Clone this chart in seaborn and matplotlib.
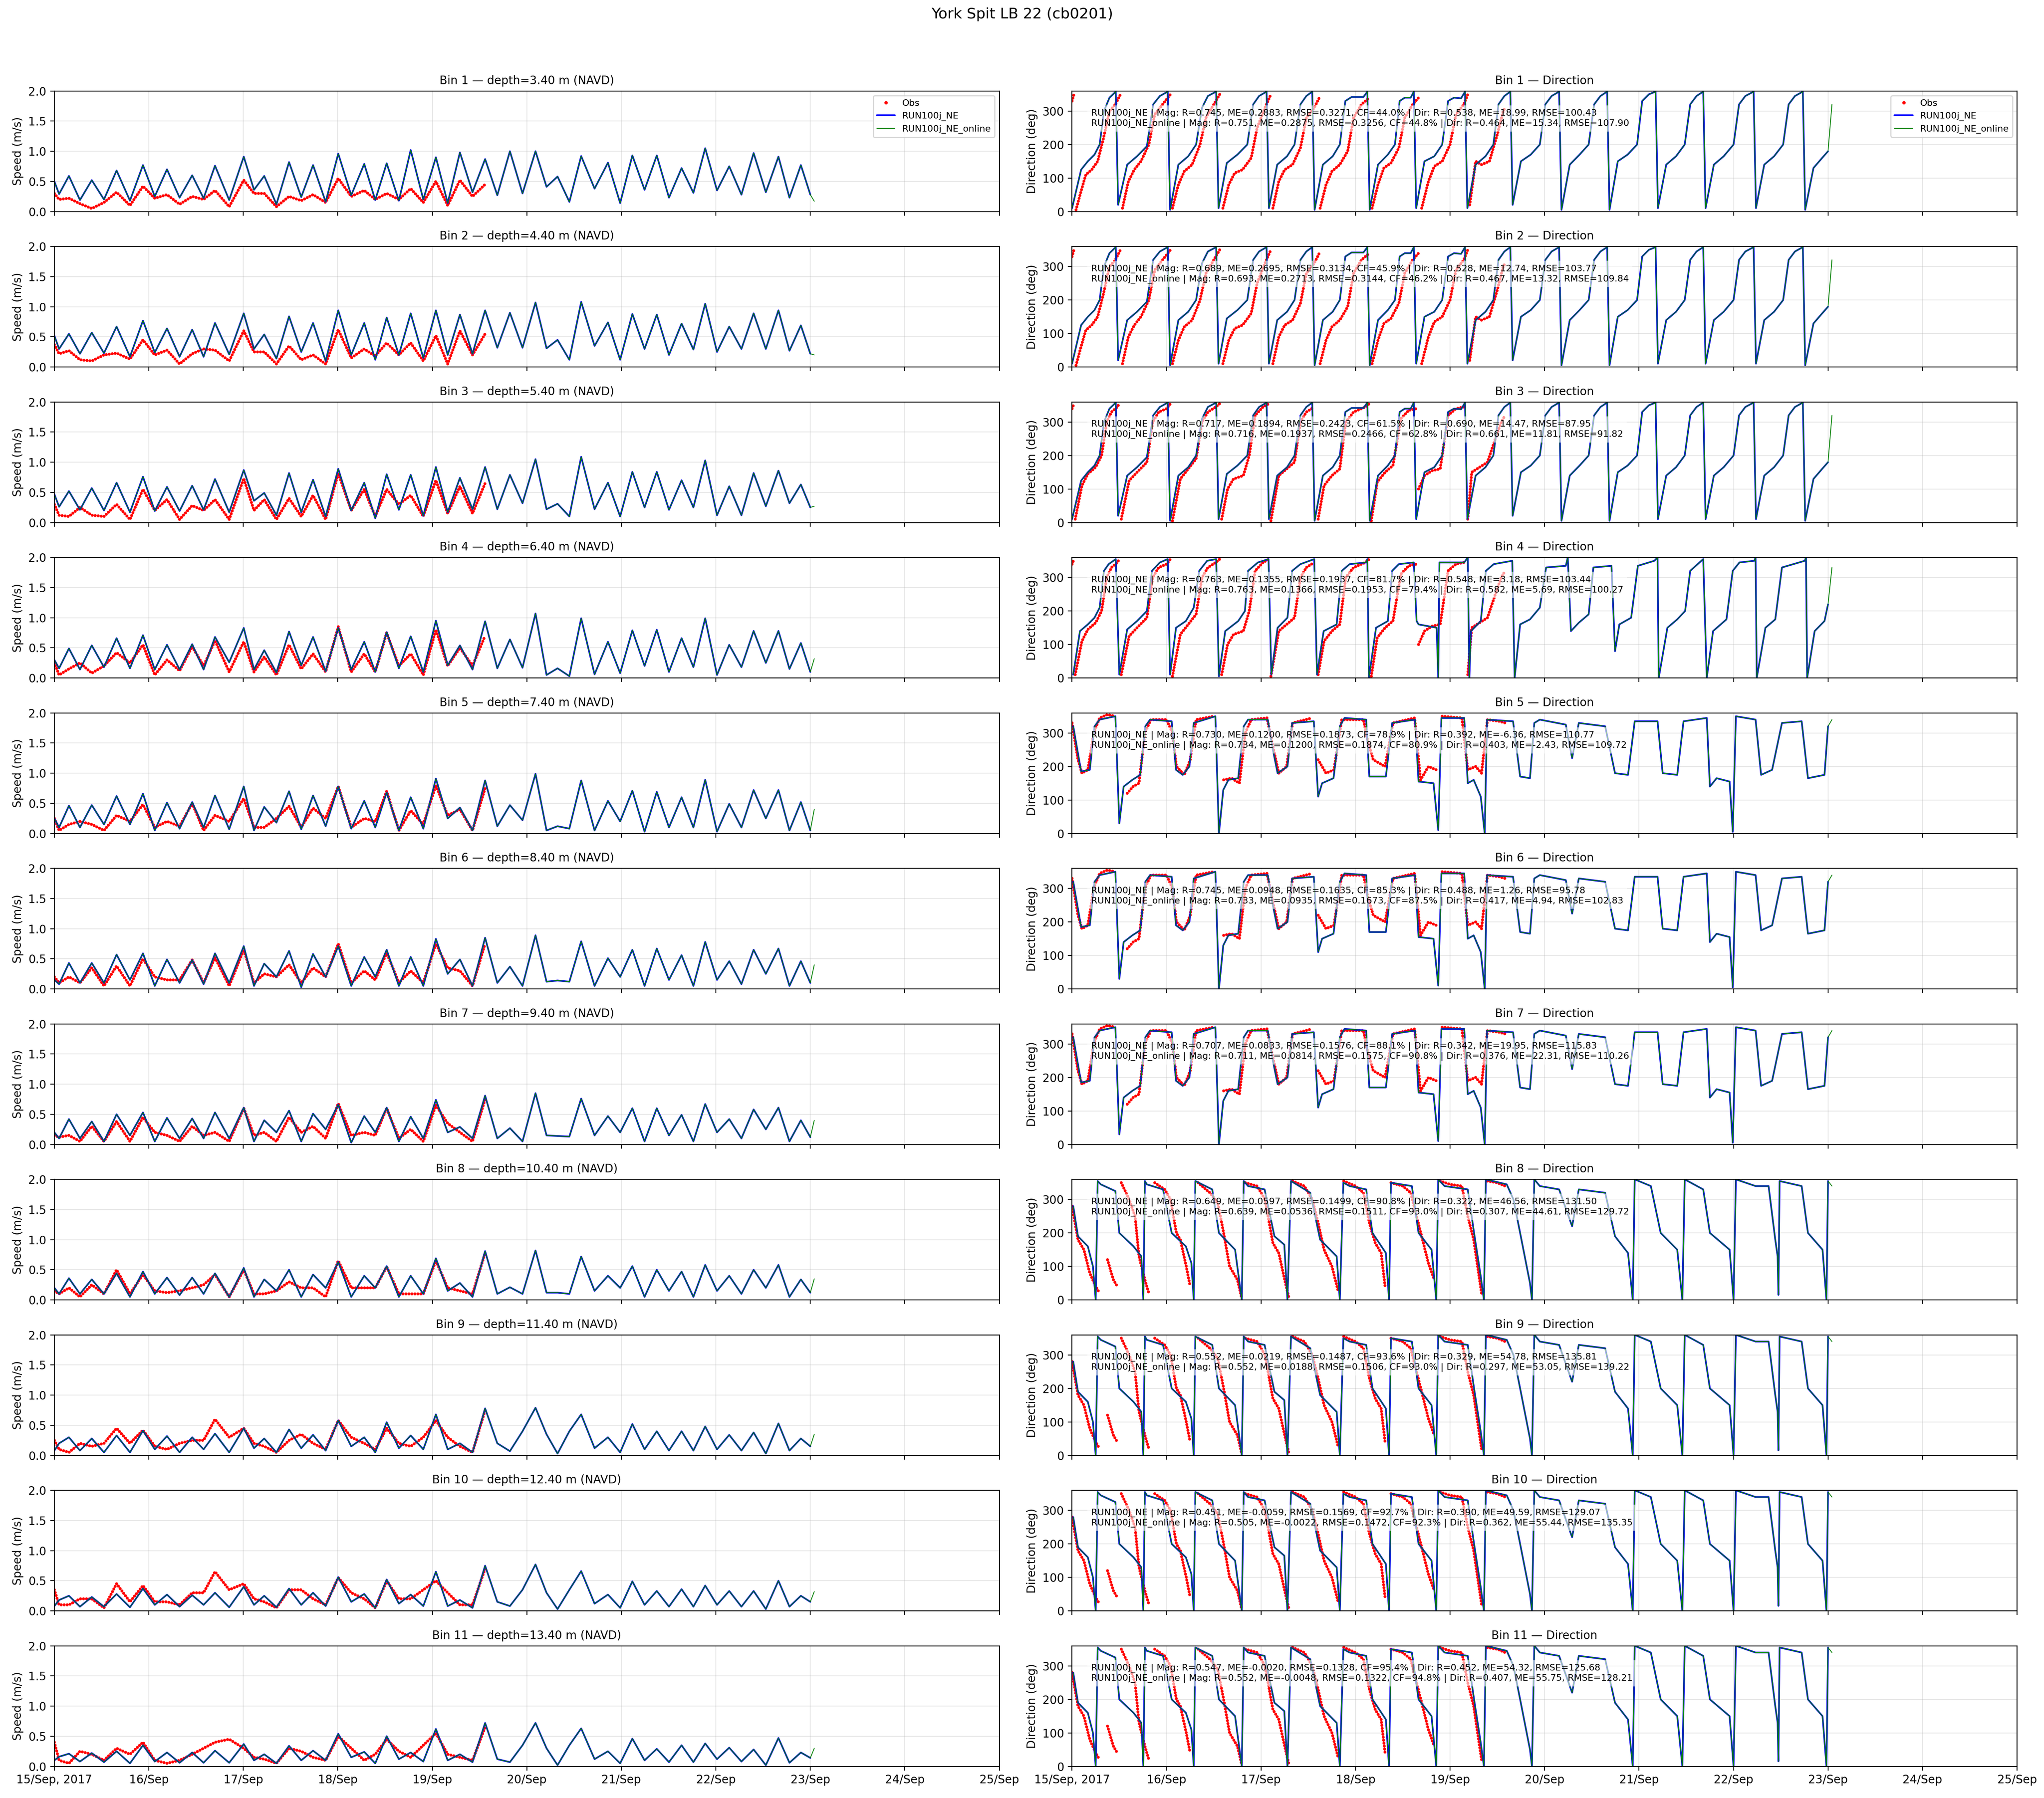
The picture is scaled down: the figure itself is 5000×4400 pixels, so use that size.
#!/usr/bin/env python3
"""Current speed / direction comparison at York Spit LB 22 (cb0201): obs vs RUN100j_NE."""

import numpy as np
import pandas as pd
import matplotlib
matplotlib.use("Agg")
import matplotlib.pyplot as plt
import matplotlib.dates as mdates
from matplotlib.lines import Line2D
from matplotlib.ticker import FuncFormatter
import seaborn as sns

NAN = np.nan

# ---------------------------------------------------------------- data
START = pd.Timestamp("2017-09-15")
END = pd.Timestamp("2017-09-25")

DEPTHS = [3.40, 4.40, 5.40, 6.40, 7.40, 8.40, 9.40, 10.40, 11.40, 12.40, 13.40]

# hours since 15 Sep 00:00 of speed maxima / minima of the model curves
PEAK_T = [3.7, 9.5, 15.8, 22.5, 28.6, 35.0, 40.8, 48.1, 53.3, 59.6, 65.7, 72.1, 78.7, 84.4,
          90.5, 96.9, 103.0, 109.4, 115.7, 122.2, 127.8, 133.8, 140.6, 146.8, 153.0, 159.3,
          165.3, 171.4, 177.6, 183.9, 189.6]
TROUGH_T = [1.2, 6.5, 12.6, 19.2, 25.5, 31.8, 37.9, 44.4, 50.7, 56.4, 62.7, 68.9, 75.4, 81.5,
            87.5, 93.7, 99.9, 106.2, 112.5, 118.9, 125.0, 130.8, 137.2, 143.7, 149.9, 156.1,
            162.3, 168.3, 174.5, 180.7, 186.7]
SPD_START = [0.50, 0.52, 0.47, 0.30, 0.25, 0.15, 0.20, 0.20, 0.08, 0.08, 0.10]
SPD_END = [0.28, 0.22, 0.25, 0.10, 0.05, 0.10, 0.12, 0.12, 0.15, 0.15, 0.14]
ONLINE_SPD_TAIL = [0.17, 0.20, 0.27, 0.32, 0.40, 0.40, 0.40, 0.35, 0.35, 0.32, 0.30]

PEAKS_1 = [0.59, 0.52, 0.68, 0.77, 0.70, 0.60, 0.76, 0.91, 0.59, 0.82, 0.77, 0.96, 0.79, 0.80, 1.02, 0.90,
           0.98, 0.87, 1.00, 1.00, 0.58, 0.92, 0.81, 0.93, 0.93, 0.72, 1.05, 0.75, 0.97, 0.91, 0.77]
TROUGHS_1 = [0.29, 0.19, 0.20, 0.18, 0.25, 0.23, 0.22, 0.19, 0.36, 0.12, 0.24, 0.16, 0.27, 0.19, 0.18, 0.20,
             0.14, 0.32, 0.27, 0.30, 0.41, 0.16, 0.38, 0.14, 0.36, 0.23, 0.31, 0.35, 0.28, 0.32, 0.23]
PEAKS_2 = [0.55, 0.57, 0.67, 0.77, 0.64, 0.62, 0.73, 0.89, 0.54, 0.84, 0.73, 0.94, 0.73, 0.82, 0.89, 0.94,
           0.87, 0.94, 0.90, 1.07, 0.45, 1.08, 0.74, 0.88, 0.87, 0.72, 1.05, 0.67, 0.89, 0.94, 0.69]
TROUGHS_2 = [0.30, 0.22, 0.23, 0.17, 0.24, 0.17, 0.17, 0.21, 0.30, 0.14, 0.25, 0.10, 0.20, 0.12, 0.20, 0.15,
             0.20, 0.22, 0.32, 0.32, 0.31, 0.12, 0.35, 0.12, 0.30, 0.20, 0.29, 0.25, 0.30, 0.30, 0.27]
PEAKS_3 = [0.52, 0.57, 0.66, 0.76, 0.59, 0.61, 0.72, 0.87, 0.49, 0.82, 0.71, 0.89, 0.66, 0.80, 0.79, 0.92,
           0.74, 0.92, 0.79, 1.05, 0.31, 1.09, 0.66, 0.84, 0.84, 0.70, 1.03, 0.60, 0.82, 0.86, 0.63]
TROUGHS_3 = [0.26, 0.21, 0.20, 0.17, 0.19, 0.19, 0.21, 0.17, 0.36, 0.12, 0.17, 0.10, 0.20, 0.07, 0.21, 0.11,
             0.17, 0.22, 0.22, 0.32, 0.22, 0.10, 0.22, 0.10, 0.25, 0.21, 0.25, 0.12, 0.12, 0.27, 0.32]
PEAKS_4 = [0.49, 0.54, 0.66, 0.71, 0.55, 0.56, 0.68, 0.83, 0.46, 0.77, 0.68, 0.83, 0.60, 0.76, 0.69, 0.95,
           0.54, 0.94, 0.64, 1.07, 0.16, 0.99, 0.60, 0.79, 0.80, 0.66, 0.99, 0.55, 0.78, 0.78, 0.58]
TROUGHS_4 = [0.16, 0.14, 0.18, 0.16, 0.14, 0.14, 0.14, 0.26, 0.14, 0.09, 0.21, 0.11, 0.14, 0.10, 0.16, 0.10,
             0.21, 0.14, 0.16, 0.17, 0.05, 0.03, 0.06, 0.08, 0.20, 0.10, 0.18, 0.05, 0.18, 0.25, 0.15]
PEAKS_5 = [0.46, 0.47, 0.62, 0.66, 0.51, 0.52, 0.63, 0.78, 0.44, 0.70, 0.63, 0.78, 0.54, 0.68, 0.60, 0.91,
           0.43, 0.88, 0.47, 0.99, 0.12, 0.88, 0.54, 0.71, 0.69, 0.60, 0.89, 0.49, 0.72, 0.72, 0.52]
TROUGHS_5 = [0.10, 0.10, 0.15, 0.15, 0.05, 0.08, 0.10, 0.07, 0.05, 0.18, 0.07, 0.12, 0.08, 0.10, 0.05, 0.08,
             0.25, 0.05, 0.12, 0.22, 0.05, 0.08, 0.05, 0.20, 0.03, 0.10, 0.10, 0.03, 0.10, 0.25, 0.05]
PEAKS_6 = [0.43, 0.43, 0.57, 0.59, 0.49, 0.48, 0.59, 0.71, 0.42, 0.63, 0.58, 0.71, 0.53, 0.65, 0.53, 0.83,
           0.49, 0.85, 0.37, 0.89, 0.14, 0.79, 0.51, 0.65, 0.67, 0.56, 0.78, 0.46, 0.65, 0.67, 0.46]
TROUGHS_6 = [0.08, 0.10, 0.10, 0.15, 0.05, 0.10, 0.08, 0.10, 0.05, 0.20, 0.03, 0.20, 0.05, 0.20, 0.05, 0.05,
             0.25, 0.05, 0.10, 0.05, 0.12, 0.12, 0.05, 0.20, 0.05, 0.15, 0.05, 0.15, 0.08, 0.25, 0.05]
PEAKS_7 = [0.42, 0.38, 0.50, 0.53, 0.44, 0.43, 0.53, 0.61, 0.40, 0.56, 0.51, 0.66, 0.47, 0.61, 0.46, 0.74,
           0.29, 0.81, 0.27, 0.85, 0.14, 0.76, 0.47, 0.60, 0.60, 0.49, 0.67, 0.42, 0.58, 0.61, 0.40]
TROUGHS_7 = [0.10, 0.10, 0.05, 0.15, 0.05, 0.10, 0.10, 0.10, 0.05, 0.20, 0.05, 0.25, 0.03, 0.20, 0.05, 0.10,
             0.20, 0.10, 0.10, 0.05, 0.15, 0.13, 0.15, 0.20, 0.05, 0.15, 0.05, 0.20, 0.10, 0.25, 0.05]
PEAKS_8 = [0.36, 0.34, 0.44, 0.47, 0.37, 0.37, 0.44, 0.53, 0.34, 0.50, 0.42, 0.63, 0.40, 0.56, 0.40, 0.69,
           0.28, 0.81, 0.21, 0.82, 0.12, 0.72, 0.40, 0.56, 0.50, 0.47, 0.58, 0.40, 0.50, 0.58, 0.34]
TROUGHS_8 = [0.10, 0.10, 0.10, 0.05, 0.10, 0.08, 0.10, 0.05, 0.05, 0.15, 0.05, 0.20, 0.05, 0.20, 0.05, 0.10,
             0.15, 0.05, 0.10, 0.10, 0.12, 0.10, 0.15, 0.20, 0.05, 0.15, 0.05, 0.15, 0.10, 0.20, 0.05]
PEAKS_9 = [0.30, 0.28, 0.33, 0.41, 0.32, 0.30, 0.36, 0.45, 0.28, 0.43, 0.34, 0.58, 0.30, 0.55, 0.33, 0.68,
           0.20, 0.78, 0.07, 0.79, 0.03, 0.68, 0.30, 0.52, 0.40, 0.40, 0.48, 0.34, 0.38, 0.53, 0.28]
TROUGHS_9 = [0.20, 0.08, 0.05, 0.05, 0.10, 0.05, 0.10, 0.05, 0.12, 0.05, 0.12, 0.08, 0.15, 0.05, 0.12, 0.10,
             0.10, 0.05, 0.20, 0.40, 0.35, 0.40, 0.12, 0.05, 0.10, 0.08, 0.08, 0.10, 0.08, 0.03, 0.08]
PEAKS_10 = [0.25, 0.23, 0.28, 0.37, 0.27, 0.26, 0.30, 0.40, 0.25, 0.37, 0.30, 0.56, 0.28, 0.52, 0.27, 0.65,
            0.18, 0.75, 0.08, 0.77, 0.03, 0.66, 0.27, 0.49, 0.33, 0.36, 0.42, 0.33, 0.33, 0.50, 0.25]
TROUGHS_10 = [0.18, 0.07, 0.07, 0.06, 0.10, 0.07, 0.10, 0.06, 0.10, 0.06, 0.10, 0.08, 0.15, 0.05, 0.12, 0.08,
              0.08, 0.05, 0.15, 0.35, 0.30, 0.35, 0.12, 0.05, 0.10, 0.07, 0.07, 0.10, 0.07, 0.03, 0.07]
PEAKS_11 = [0.21, 0.22, 0.25, 0.35, 0.23, 0.23, 0.26, 0.37, 0.20, 0.34, 0.26, 0.54, 0.24, 0.50, 0.23, 0.62,
            0.20, 0.72, 0.07, 0.72, 0.02, 0.63, 0.25, 0.46, 0.29, 0.35, 0.38, 0.31, 0.28, 0.47, 0.23]
TROUGHS_11 = [0.16, 0.08, 0.07, 0.05, 0.08, 0.06, 0.06, 0.06, 0.10, 0.05, 0.10, 0.10, 0.15, 0.05, 0.12, 0.08,
              0.10, 0.07, 0.12, 0.35, 0.30, 0.35, 0.12, 0.05, 0.10, 0.07, 0.07, 0.12, 0.08, 0.02, 0.06]

# observed speed, sampled at the first model extrema (until the record ends ~110 h)
OBS_SPD_1 = [0.30, 0.20, 0.22, 0.13, 0.05, 0.15, 0.32, 0.10, 0.42, 0.22, 0.28, 0.12, 0.25, 0.20, 0.35, 0.08, 0.52,
             0.30, 0.30, 0.08, 0.25, 0.18, 0.28, 0.15, 0.55, 0.25, 0.35, 0.20, 0.30, 0.20, 0.38, 0.15, 0.50, 0.10,
             0.52, 0.25, 0.45]
OBS_SPD_2 = [0.37, 0.22, 0.27, 0.12, 0.10, 0.20, 0.23, 0.13, 0.45, 0.20, 0.28, 0.05, 0.22, 0.30, 0.28, 0.10, 0.60,
             0.25, 0.25, 0.05, 0.35, 0.12, 0.20, 0.05, 0.62, 0.15, 0.30, 0.18, 0.40, 0.20, 0.40, 0.10, 0.52, 0.05,
             0.60, 0.20, 0.55]
OBS_SPD_3 = [0.30, 0.12, 0.10, 0.25, 0.12, 0.10, 0.30, 0.05, 0.55, 0.20, 0.38, 0.05, 0.28, 0.20, 0.38, 0.05, 0.73,
             0.20, 0.38, 0.05, 0.40, 0.10, 0.45, 0.05, 0.82, 0.20, 0.55, 0.10, 0.55, 0.30, 0.45, 0.10, 0.70, 0.15,
             0.60, 0.15, 0.65]
OBS_SPD_4 = [0.25, 0.05, 0.15, 0.25, 0.08, 0.20, 0.42, 0.25, 0.55, 0.05, 0.30, 0.12, 0.52, 0.20, 0.62, 0.10, 0.60,
             0.10, 0.35, 0.05, 0.55, 0.15, 0.40, 0.10, 0.85, 0.10, 0.40, 0.10, 0.75, 0.20, 0.40, 0.05, 0.80, 0.20,
             0.50, 0.20, 0.70]
OBS_SPD_5 = [0.25, 0.05, 0.15, 0.20, 0.15, 0.05, 0.30, 0.20, 0.48, 0.10, 0.20, 0.12, 0.50, 0.05, 0.30, 0.20, 0.58,
             0.10, 0.10, 0.25, 0.45, 0.10, 0.42, 0.25, 0.78, 0.10, 0.25, 0.20, 0.70, 0.05, 0.38, 0.15, 0.80, 0.30,
             0.40, 0.05, 0.75]
OBS_SPD_6 = [0.20, 0.10, 0.20, 0.10, 0.35, 0.05, 0.38, 0.05, 0.50, 0.20, 0.15, 0.15, 0.48, 0.10, 0.52, 0.05, 0.65,
             0.10, 0.25, 0.20, 0.40, 0.10, 0.35, 0.20, 0.75, 0.10, 0.30, 0.15, 0.60, 0.10, 0.30, 0.10, 0.75, 0.35,
             0.30, 0.05, 0.75]
OBS_SPD_7 = [0.15, 0.12, 0.15, 0.05, 0.30, 0.05, 0.38, 0.05, 0.45, 0.20, 0.15, 0.05, 0.30, 0.15, 0.20, 0.05, 0.60,
             0.15, 0.20, 0.05, 0.45, 0.20, 0.30, 0.10, 0.68, 0.15, 0.20, 0.15, 0.60, 0.10, 0.25, 0.05, 0.65, 0.35,
             0.20, 0.05, 0.75]
OBS_SPD_8 = [0.15, 0.10, 0.20, 0.05, 0.25, 0.10, 0.50, 0.10, 0.42, 0.15, 0.12, 0.15, 0.20, 0.25, 0.42, 0.05, 0.50,
             0.10, 0.10, 0.15, 0.30, 0.20, 0.20, 0.05, 0.65, 0.20, 0.20, 0.20, 0.55, 0.10, 0.10, 0.10, 0.65, 0.20,
             0.15, 0.10, 0.78]
OBS_SPD_9 = [0.25, 0.10, 0.05, 0.20, 0.15, 0.20, 0.45, 0.20, 0.42, 0.15, 0.10, 0.20, 0.25, 0.25, 0.60, 0.30, 0.45,
             0.20, 0.15, 0.05, 0.25, 0.35, 0.20, 0.10, 0.58, 0.30, 0.20, 0.10, 0.45, 0.20, 0.15, 0.30, 0.58, 0.30,
             0.15, 0.05, 0.75]
OBS_SPD_10 = [0.35, 0.10, 0.10, 0.20, 0.20, 0.05, 0.45, 0.15, 0.42, 0.15, 0.15, 0.10, 0.30, 0.30, 0.65, 0.35, 0.45,
              0.20, 0.15, 0.05, 0.35, 0.35, 0.20, 0.10, 0.55, 0.30, 0.20, 0.05, 0.50, 0.20, 0.20, 0.35, 0.50, 0.30,
              0.10, 0.10, 0.70]
OBS_SPD_11 = [0.40, 0.10, 0.05, 0.25, 0.20, 0.10, 0.30, 0.20, 0.40, 0.10, 0.05, 0.10, 0.20, 0.30, 0.40, 0.45, 0.30,
              0.15, 0.12, 0.05, 0.30, 0.25, 0.15, 0.10, 0.50, 0.30, 0.10, 0.20, 0.45, 0.25, 0.15, 0.35, 0.55, 0.20,
              0.15, 0.10, 0.65]

# model direction (hour, deg); A: bins 1-3, B: bin 4, C: bins 5-7, D: bins 8-11
DIR_A = [(0.0, 10), (2.3, 125), (4.0, 150), (5.7, 170), (7.0, 200), (8.1, 300), (9.5, 340), (11.1, 358),
         (11.7, 20), (14.0, 140), (16.5, 165), (19.0, 195), (20.6, 320), (22.3, 345), (24.3, 358),
         (24.9, 5), (27.0, 140), (29.5, 165), (31.5, 200), (33.0, 310), (34.5, 345), (36.6, 358),
         (37.2, 10), (39.3, 145), (42.0, 170), (44.5, 200), (46.0, 320), (47.5, 345), (49.4, 358),
         (50.0, 10), (52.1, 140), (54.6, 165), (56.5, 200), (58.0, 320), (59.5, 345), (61.0, 358),
         (61.6, 5), (63.7, 140), (66.2, 165), (68.0, 200), (69.4, 330), (71.0, 342), (74.0, 342), (75.0, 358),
         (75.6, 5), (77.7, 140), (80.2, 170), (82.0, 200), (83.2, 330), (84.5, 340), (86.0, 340), (86.8, 358),
         (87.4, 10), (89.5, 150), (92.0, 165), (94.0, 200), (95.5, 330), (97.0, 340), (98.8, 338), (99.8, 358),
         (100.4, 10), (102.5, 140), (105.0, 165), (107.0, 200), (108.3, 320), (109.8, 345), (111.3, 358),
         (111.9, 20), (114.0, 150), (116.5, 170), (118.8, 200), (120.2, 320), (121.8, 345), (123.7, 358),
         (124.3, 5), (126.4, 140), (128.9, 170), (131.2, 200), (132.6, 320), (134.2, 345), (135.9, 358),
         (136.5, 5), (138.6, 150), (141.1, 170), (143.5, 200), (144.8, 330), (146.5, 350), (148.2, 358),
         (148.8, 10), (150.9, 140), (153.4, 165), (155.6, 200), (157.0, 320), (158.6, 345), (160.3, 358),
         (160.9, 10), (163.0, 140), (165.5, 165), (168.0, 200), (169.4, 320), (171.0, 345), (173.1, 358),
         (173.7, 10), (175.8, 140), (178.3, 165), (180.6, 200), (182.0, 320), (183.6, 345), (185.6, 358),
         (186.2, 5), (188.3, 130), (190.5, 160), (192.0, 180)]
DIR_B = [(0.3, 10), (2.0, 140), (4.0, 160), (5.7, 180), (7.0, 210), (8.1, 320), (9.3, 340), (11.1, 355),
         (12.0, 10), (14.0, 145), (16.5, 170), (19.0, 200), (20.3, 320), (22.3, 345), (24.3, 355),
         (24.9, 10), (26.4, 150), (28.9, 170), (30.9, 210), (32.3, 320), (34.3, 350), (36.6, 355),
         (37.3, 5), (38.9, 140), (42.2, 170), (43.9, 200), (44.7, 320), (47.2, 345), (49.9, 355),
         (50.6, 10), (52.2, 150), (54.7, 180), (55.9, 320), (58.0, 340), (61.5, 355),
         (62.2, 10), (63.9, 140), (67.2, 160), (68.5, 320), (70.5, 340), (74.7, 345), (75.0, 355),
         (75.4, 0), (77.2, 150), (80.2, 170), (81.3, 320), (83.0, 340), (86.8, 345),
         (87.5, 170), (88.0, 160), (92.6, 150), (93.0, 0), (93.3, 345), (99.6, 345), (100.5, 360),
         (100.9, 0), (101.3, 140), (103.8, 170), (105.1, 320), (107.1, 340), (111.8, 350),
         (112.4, 0), (113.8, 160), (116.3, 175), (118.8, 210), (120.4, 330), (125.4, 335), (125.9, 360),
         (126.7, 140), (128.7, 165), (131.2, 190), (132.4, 330), (137.0, 335),
         (137.9, 80), (139.0, 160), (142.0, 180), (143.7, 335), (147.9, 350), (148.7, 360),
         (149.0, 0), (151.2, 150), (153.7, 175), (155.7, 200), (157.0, 320), (160.3, 355),
         (161.2, 0), (162.8, 140), (166.2, 175), (167.8, 320), (169.5, 345), (173.3, 350), (173.6, 360),
         (173.9, 0), (176.1, 150), (178.6, 175), (180.3, 330), (186.1, 350), (186.4, 360),
         (186.7, 0), (188.6, 140), (191.1, 170), (192.0, 220)]
DIR_C = [(0.3, 320), (2.3, 185), (4.5, 190), (5.7, 320), (7.0, 340), (11.0, 350), (12.0, 30), (13.1, 140),
         (15.3, 160), (17.3, 175), (18.6, 320), (19.8, 340), (25.3, 335), (26.4, 190), (28.1, 175), (29.8, 200),
         (30.9, 330), (36.4, 350), (37.3, 0), (38.4, 130), (39.7, 160), (42.2, 165), (43.6, 320), (44.7, 340),
         (49.7, 340), (51.0, 250), (52.2, 180), (54.7, 200), (55.9, 330), (61.4, 335), (62.5, 110), (63.5, 150),
         (66.4, 165), (68.0, 320), (69.2, 345), (74.7, 340), (75.5, 170), (79.7, 170), (81.3, 330), (87.1, 340),
         (88.0, 155), (91.8, 150), (93.0, 10), (93.8, 345), (99.6, 345), (100.5, 150), (102.0, 160), (103.8, 110),
         (104.8, 0), (105.4, 340), (112.0, 335), (113.8, 170), (116.3, 165), (117.4, 330), (118.8, 340),
         (125.4, 325), (127.0, 225), (128.7, 330), (135.4, 320), (137.9, 180), (141.2, 175), (142.9, 335),
         (148.7, 335), (150.0, 180), (153.7, 175), (155.3, 335), (161.2, 345), (162.0, 140), (163.7, 165),
         (167.0, 155), (167.8, 5), (168.6, 350), (173.6, 340), (175.0, 175), (177.8, 190), (180.3, 330),
         (185.3, 335), (186.9, 165), (191.1, 175), (192.0, 320)]
DIR_D = [(0.3, 280), (1.5, 190), (4.0, 160), (5.3, 100), (6.0, 0), (6.5, 355), (7.3, 345), (11.0, 325),
         (12.0, 200), (15.6, 160), (17.6, 130), (18.1, 0), (18.5, 355), (19.0, 345), (23.1, 330), (25.3, 200),
         (28.9, 160), (30.3, 110), (30.9, 0), (31.3, 355), (35.6, 330), (37.3, 200), (41.4, 150), (43.1, 0),
         (43.6, 355), (44.7, 340), (48.9, 330), (51.4, 190), (53.9, 165), (54.7, 0), (55.6, 355), (60.5, 320),
         (63.0, 180), (67.2, 130), (68.0, 0), (68.9, 350), (70.5, 340), (74.7, 330), (76.3, 200), (79.7, 140),
         (80.5, 0), (81.0, 350), (86.3, 340), (88.0, 200), (91.3, 150), (92.5, 0), (93.0, 360), (94.6, 340),
         (100.5, 330), (102.1, 200), (103.8, 70), (104.6, 0), (105.1, 360), (110.4, 345), (112.1, 300),
         (113.8, 200), (116.3, 50), (116.8, 0), (117.4, 360), (118.8, 340), (123.7, 330), (127.0, 220),
         (128.7, 330), (135.4, 320), (137.9, 190), (141.2, 140), (142.4, 0), (142.9, 360), (147.0, 340),
         (149.5, 200), (153.7, 150), (155.0, 0), (155.6, 360), (160.3, 330), (162.0, 200), (167.0, 150),
         (168.0, 0), (168.6, 360), (173.6, 340), (176.9, 340), (178.6, 180), (179.2, 130), (179.4, 15),
         (179.7, 355), (185.3, 340), (186.9, 200), (190.6, 150), (191.6, 0), (192.0, 355)]
ONLINE_DIR_TAIL = [(193.0, 320), (193.0, 330), (193.0, 340), (193.0, 340)]

# observed direction (hour, deg), NaN where the record wraps through north
OBS_DIR_A = [(0.0, 330), (0.6, 355), (0.8, NAN), (1.0, 5), (2.5, 70), (3.5, 110), (5.0, 125), (6.5, 150),
             (8.0, 220), (9.5, 300), (11.0, 320), (12.3, 350), (12.5, NAN),
             (12.8, 10), (14.3, 90), (15.8, 125), (17.5, 150), (19.5, 200), (21.0, 290), (23.0, 320), (25.0, 350),
             (25.2, NAN), (25.5, 10), (27.0, 80), (28.5, 120), (30.5, 140), (32.5, 200), (34.0, 280), (36.0, 320),
             (37.5, 350), (37.8, NAN), (38.3, 10), (39.8, 80), (41.3, 115), (43.3, 125), (45.5, 160), (47.0, 250),
             (49.0, 310), (50.5, 350), (50.7, NAN), (51.0, 10), (52.5, 90), (54.0, 125), (56.0, 140), (58.0, 190),
             (59.5, 280), (61.5, 310), (62.8, 340), (62.9, NAN), (63.0, 10), (64.5, 80), (66.0, 120), (68.0, 140),
             (70.0, 180), (71.5, 280), (73.5, 320), (75.5, 340), (75.8, NAN), (76.2, 10), (77.7, 80), (79.2, 130),
             (81.0, 145), (83.0, 190), (84.5, 280), (86.5, 320), (88.0, 340), (88.4, NAN), (88.8, 10), (90.5, 90),
             (92.0, 135), (94.0, 150), (96.0, 200), (97.5, 290), (99.5, 320), (100.5, 350), (100.7, NAN),
             (101.0, 20), (102.5, 150), (104.0, 140), (106.0, 150), (108.0, 230), (109.5, 300), (110.0, 310)]
OBS_DIR_B = [(0.0, 340), (0.5, 355), (0.6, NAN), (0.8, 10), (2.5, 110), (4.0, 145), (6.0, 165), (7.5, 200),
             (8.8, 300), (10.0, 330), (11.5, 345), (12.0, 355), (12.2, NAN),
             (12.5, 10), (14.5, 125), (16.5, 150), (19.0, 180), (20.5, 300), (22.0, 330), (24.0, 340), (25.0, 355),
             (25.2, NAN), (25.5, 5), (27.5, 130), (29.5, 160), (31.5, 190), (33.0, 300), (34.5, 330), (36.5, 345),
             (37.5, 355), (37.7, NAN), (38.0, 10), (39.5, 100), (41.0, 130), (43.5, 140), (45.0, 200), (46.5, 320),
             (48.5, 345), (50.0, 355), (50.2, NAN), (50.5, 5), (52.5, 140), (54.5, 160), (56.5, 180), (58.0, 300),
             (59.5, 330), (61.5, 345), (62.0, NAN), (62.5, 10), (64.0, 110), (66.0, 140), (68.0, 160), (69.5, 300),
             (71.5, 330), (74.5, 345), (75.5, 355), (75.7, NAN), (76.0, 5), (77.5, 120), (79.5, 150), (81.5, 170),
             (83.5, 310), (85.5, 335), (87.5, 340), (87.8, NAN), (88.0, 100), (89.5, 140), (91.5, 155), (93.5, 160),
             (95.5, 320), (97.5, 340), (99.5, 345), (100.0, NAN), (100.5, 10), (101.5, 150), (103.5, 165),
             (105.5, 180), (107.5, 250), (109.0, 300), (110.0, 320)]
OBS_DIR_C = [(0.0, 330), (1.5, 220), (2.5, 180), (4.0, 190), (5.5, 300), (7.0, 345), (9.0, 355), (11.0, 350),
             (12.0, NAN), (12.5, 5), (13.0, NAN), (14.0, 120), (15.5, 140), (17.0, 150), (18.5, 300), (20.0, 340),
             (24.0, 340), (25.5, 300), (26.5, 200), (28.5, 175), (30.0, 220), (31.5, 340), (36.0, 350), (37.0, NAN),
             (37.5, 5), (38.0, NAN), (38.5, 160), (40.5, 165), (42.5, 150), (44.0, 300), (45.5, 340), (49.5, 345),
             (51.0, 260), (52.5, 180), (54.5, 200), (56.0, 330), (61.0, 345), (62.0, NAN), (62.5, 220), (64.5, 180),
             (66.5, 190), (68.5, 340), (74.0, 340), (75.0, 280), (76.5, 220), (79.5, 200), (81.5, 330), (87.0, 345),
             (88.5, 160), (90.5, 200), (92.5, 190), (92.8, NAN), (93.2, 5), (93.6, NAN), (94.0, 350), (99.0, 345),
             (100.5, 190), (102.5, 200), (104.0, 180), (105.5, 340), (108.5, 335), (110.0, 330)]
OBS_DIR_D = [(0.0, 280), (1.5, 180), (3.0, 150), (4.5, 80), (6.0, 40), (7.0, 20), (7.5, NAN), (8.0, 350),
             (8.5, NAN), (9.0, 120), (10.5, 60), (11.5, 40), (12.0, NAN),
             (12.5, 350), (14.5, 300), (16.0, 250), (17.0, 130), (18.5, 60), (19.5, 20), (20.2, NAN),
             (21.0, 350), (23.5, 330), (25.0, 300), (26.5, 200), (27.5, 180), (29.0, 100), (30.0, 40), (31.0, NAN),
             (32.0, 350), (35.0, 320), (37.0, 290), (38.5, 200), (40.0, 100), (42.0, 60), (43.0, 10), (43.5, NAN),
             (44.0, 350), (47.0, 340), (49.0, 300), (51.0, 170), (52.5, 140), (54.0, 60), (55.0, 10), (55.5, NAN),
             (56.0, 355), (59.0, 340), (61.0, 300), (62.5, 230), (64.0, 150), (66.0, 100), (67.5, 30), (68.2, NAN),
             (69.0, 355), (72.0, 340), (74.0, 320), (75.5, 230), (77.0, 170), (78.5, 140), (79.5, 40), (80.2, NAN),
             (81.0, 350), (84.0, 340), (86.0, 320), (87.5, 250), (89.0, 180), (90.5, 110), (92.0, 60), (92.7, NAN),
             (93.5, 355), (96.0, 345), (99.0, 340), (100.5, 250), (102.0, 180), (103.0, 100), (104.0, 20),
             (104.7, NAN), (105.5, 355), (108.0, 350), (110.0, 340)]

STATS_NE = [
    "Mag: R=0.745, ME=0.2883, RMSE=0.3271, CF=44.0% | Dir: R=0.538, ME=18.99, RMSE=100.43",
    "Mag: R=0.689, ME=0.2695, RMSE=0.3134, CF=45.9% | Dir: R=0.528, ME=12.74, RMSE=103.77",
    "Mag: R=0.717, ME=0.1894, RMSE=0.2423, CF=61.5% | Dir: R=0.690, ME=14.47, RMSE=87.95",
    "Mag: R=0.763, ME=0.1355, RMSE=0.1937, CF=81.7% | Dir: R=0.548, ME=3.18, RMSE=103.44",
    "Mag: R=0.730, ME=0.1200, RMSE=0.1873, CF=78.9% | Dir: R=0.392, ME=-6.36, RMSE=110.77",
    "Mag: R=0.745, ME=0.0948, RMSE=0.1635, CF=85.3% | Dir: R=0.488, ME=1.26, RMSE=95.78",
    "Mag: R=0.707, ME=0.0833, RMSE=0.1576, CF=88.1% | Dir: R=0.342, ME=19.95, RMSE=115.83",
    "Mag: R=0.649, ME=0.0597, RMSE=0.1499, CF=90.8% | Dir: R=0.322, ME=46.56, RMSE=131.50",
    "Mag: R=0.552, ME=0.0219, RMSE=0.1487, CF=93.6% | Dir: R=0.329, ME=54.78, RMSE=135.81",
    "Mag: R=0.451, ME=-0.0059, RMSE=0.1569, CF=92.7% | Dir: R=0.390, ME=49.59, RMSE=129.07",
    "Mag: R=0.547, ME=-0.0020, RMSE=0.1328, CF=95.4% | Dir: R=0.452, ME=54.32, RMSE=125.68",
]
STATS_ONLINE = [
    "Mag: R=0.751, ME=0.2875, RMSE=0.3256, CF=44.8% | Dir: R=0.464, ME=15.34, RMSE=107.90",
    "Mag: R=0.693, ME=0.2713, RMSE=0.3144, CF=46.2% | Dir: R=0.467, ME=13.32, RMSE=109.84",
    "Mag: R=0.716, ME=0.1937, RMSE=0.2466, CF=62.8% | Dir: R=0.661, ME=11.81, RMSE=91.82",
    "Mag: R=0.763, ME=0.1366, RMSE=0.1953, CF=79.4% | Dir: R=0.582, ME=5.69, RMSE=100.27",
    "Mag: R=0.734, ME=0.1200, RMSE=0.1874, CF=80.9% | Dir: R=0.403, ME=-2.43, RMSE=109.72",
    "Mag: R=0.733, ME=0.0935, RMSE=0.1673, CF=87.5% | Dir: R=0.417, ME=4.94, RMSE=102.83",
    "Mag: R=0.711, ME=0.0814, RMSE=0.1575, CF=90.8% | Dir: R=0.376, ME=22.31, RMSE=110.26",
    "Mag: R=0.639, ME=0.0536, RMSE=0.1511, CF=93.0% | Dir: R=0.307, ME=44.61, RMSE=129.72",
    "Mag: R=0.552, ME=0.0188, RMSE=0.1506, CF=93.0% | Dir: R=0.297, ME=53.05, RMSE=139.22",
    "Mag: R=0.505, ME=-0.0022, RMSE=0.1472, CF=92.3% | Dir: R=0.362, ME=55.44, RMSE=135.35",
    "Mag: R=0.552, ME=-0.0048, RMSE=0.1322, CF=94.8% | Dir: R=0.407, ME=55.75, RMSE=128.21",
]

PEAKS = [PEAKS_1, PEAKS_2, PEAKS_3, PEAKS_4, PEAKS_5, PEAKS_6, PEAKS_7, PEAKS_8, PEAKS_9, PEAKS_10, PEAKS_11]
TROUGHS = [TROUGHS_1, TROUGHS_2, TROUGHS_3, TROUGHS_4, TROUGHS_5, TROUGHS_6, TROUGHS_7, TROUGHS_8,
           TROUGHS_9, TROUGHS_10, TROUGHS_11]
OBS_SPD = [OBS_SPD_1, OBS_SPD_2, OBS_SPD_3, OBS_SPD_4, OBS_SPD_5, OBS_SPD_6, OBS_SPD_7, OBS_SPD_8,
           OBS_SPD_9, OBS_SPD_10, OBS_SPD_11]
DIR_GROUP = [0, 0, 0, 1, 2, 2, 2, 3, 3, 3, 3]
DIR_MODEL = [DIR_A, DIR_B, DIR_C, DIR_D]
OBS_DIR_GROUP = [OBS_DIR_A, OBS_DIR_A, OBS_DIR_B, OBS_DIR_B, OBS_DIR_C, OBS_DIR_C, OBS_DIR_C,
                 OBS_DIR_D, OBS_DIR_D, OBS_DIR_D, OBS_DIR_D]

# ---------------------------------------------------------------- style
sns.set_style("ticks", {"axes.edgecolor": "black", "text.color": "black", "axes.labelcolor": "black",
                        "xtick.color": "black", "ytick.color": "black"})
plt.rcParams['font.family'] = ['DejaVu Sans']
plt.rcParams['font.size'] = 10

C_OBS, C_NE, C_ON = 'red', 'blue', 'green'
LW_NE, LW_ON = 1.5, 0.7


def to_dates(hours):
    return START + pd.to_timedelta(np.asarray(hours, dtype=float), unit="h")


def speed_series(i):
    t, v = [0.0], [SPD_START[i]]
    for k in range(len(PEAK_T)):
        t += [TROUGH_T[k], PEAK_T[k]]
        v += [TROUGHS[i][k], PEAKS[i][k]]
    t.append(192.0)
    v.append(SPD_END[i])
    return t, v


def draw_obs(ax, hours, vals):
    # dense chain of round dots, like the raw ADCP samples
    ax.plot(to_dates(hours), vals, color=C_OBS, lw=2.6, ls=(0, (0.01, 1.0)),
            dash_capstyle='round', zorder=2)


def draw_models(ax, hours, vals, tail):
    sns.lineplot(x=to_dates(hours), y=np.asarray(vals, float), ax=ax, color=C_NE, lw=LW_NE,
                 estimator=None, sort=False, zorder=2.1)
    h2 = list(hours) + [tail[0]]
    v2 = list(vals) + [tail[1]]
    sns.lineplot(x=to_dates(h2), y=np.asarray(v2, float), ax=ax, color=C_ON, lw=LW_ON,
                 estimator=None, sort=False, zorder=2.2)


def date_label(x, pos=None):
    d = mdates.num2date(x)
    if d.day == START.day and d.month == START.month:
        return d.strftime('%d/%b, %Y')
    return d.strftime('%d/%b')


fig, axes = plt.subplots(11, 2, sharex=True, figsize=(25, 22), dpi=200)
fig.subplots_adjust(left=0.0266, right=0.9868, top=0.9494, bottom=0.0176, wspace=0.077, hspace=0.29)

for i in range(11):
    ax_s, ax_d = axes[i, 0], axes[i, 1]

    # speed panel
    t, v = speed_series(i)
    draw_obs(ax_s, t[:len(OBS_SPD[i])], OBS_SPD[i])
    draw_models(ax_s, t, v, (193.0, ONLINE_SPD_TAIL[i]))
    ax_s.set_ylim(0, 2.0)
    ax_s.set_yticks([0.0, 0.5, 1.0, 1.5, 2.0])
    ax_s.set_ylabel('Speed (m/s)')
    ax_s.set_title(f'Bin {i + 1} — depth={DEPTHS[i]:.2f} m (NAVD)', fontsize=10)

    # direction panel
    oh, ov = zip(*OBS_DIR_GROUP[i])
    draw_obs(ax_d, oh, ov)
    g = DIR_GROUP[i]
    mh, mv = zip(*DIR_MODEL[g])
    draw_models(ax_d, mh, mv, ONLINE_DIR_TAIL[g])
    ax_d.set_ylim(0, 360)
    ax_d.set_yticks([0, 100, 200, 300])
    ax_d.set_ylabel('Direction (deg)')
    ax_d.set_title(f'Bin {i + 1} — Direction', fontsize=10)
    ax_d.text(0.02, 0.85, f'RUN100j_NE | {STATS_NE[i]}\nRUN100j_NE_online | {STATS_ONLINE[i]}',
              transform=ax_d.transAxes, fontsize=8, va='top', ha='left', zorder=4,
              bbox=dict(boxstyle='square,pad=0.4', facecolor='white', alpha=0.6, edgecolor='none'))

    for ax in (ax_s, ax_d):
        ax.grid(True, color='#b0b0b0', lw=0.8, alpha=0.3)
        ax.set_xlabel('')
        for sp in ax.spines.values():
            sp.set_visible(True)
            sp.set_color('black')
            sp.set_linewidth(0.8)

ax0 = axes[0, 0]
ax0.set_xlim(START, END)
ax0.xaxis.set_major_locator(mdates.DayLocator())
ax0.xaxis.set_major_formatter(FuncFormatter(date_label))

handles = [Line2D([], [], color=C_OBS, marker='o', ls='none', markersize=2),
           Line2D([], [], color=C_NE, lw=LW_NE),
           Line2D([], [], color=C_ON, lw=LW_ON)]
labels = ['Obs', 'RUN100j_NE', 'RUN100j_NE_online']
for ax in axes[0]:
    ax.legend(handles, labels, loc='upper right', fontsize=8)

fig.suptitle('York Spit LB 22 (cb0201)', fontsize=13, y=0.996, va='top')
fig.savefig('out.png', dpi=200)
plt.close(fig)
